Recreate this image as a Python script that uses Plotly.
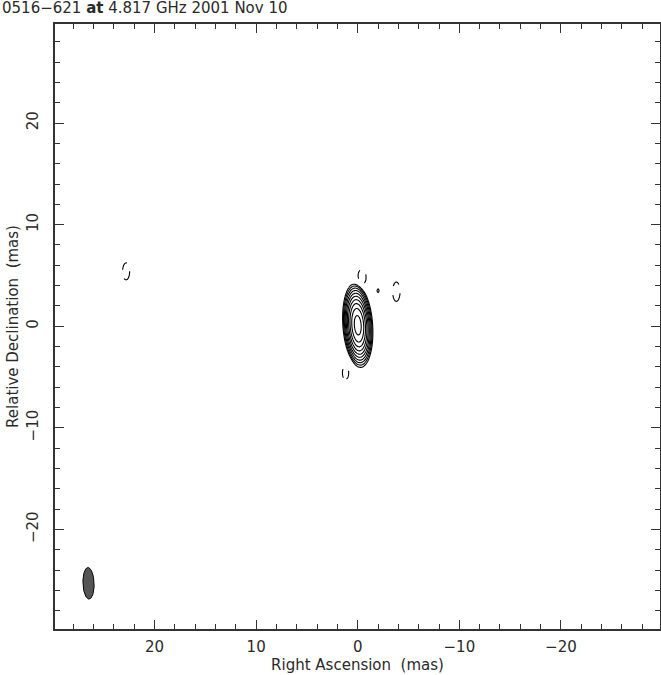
import numpy as np
import plotly.graph_objects as go

# Gaussian components of the map, flux in units of the lowest contour
comp_x = [0.0, 22.8, -0.4, -3.8, 1.2, -2.0]
comp_y = [0.1, 5.4, 4.8, 3.4, -4.6, 3.5]
comp_flux = [2 ** 9.5, -1.4, -1.4, -1.45, -1.25, -1.02]
comp_maj = [2.7, 2.4, 2.3, 2.6, 2.2, 2.0]
comp_min = [0.95, 1.0, 1.2, 1.0, 1.1, 1.0]
comp_pa = [4, 0, 0, 0, 0, 0]

# restoring beam (mas, deg) and where it is drawn
beam_maj, beam_min, beam_pa = 3.1, 1.1, 2
beam_x, beam_y = 26.5, -25.3

n_levels = 10
ticks = [20, 10, 0, -10, -20]

gx = np.arange(-6.0, 25.0, 0.08)
gy = np.arange(-8.0, 8.0, 0.08)
X, Y = np.meshgrid(gx, gy)
img = np.zeros_like(X)
for x0, y0, f, bmj, bmn, pa in zip(comp_x, comp_y, comp_flux, comp_maj, comp_min, comp_pa):
    t = np.radians(pa)
    dx, dy = X - x0, Y - y0
    u = dx * np.sin(t) + dy * np.cos(t)
    v = dx * np.cos(t) - dy * np.sin(t)
    img += f * np.exp(-4 * np.log(2) * ((u / bmj) ** 2 + (v / bmn) ** 2))

pos = np.where(img > 0, np.log2(np.clip(img, 1e-6, None)), -20).round(3)
neg = np.where(img < 0, np.log2(np.clip(-img, 1e-6, None)), -20).round(3)

black = [[0, 'black'], [1, 'black']]
fig = go.Figure()
fig.add_trace(go.Contour(x=gx, y=gy, z=pos, colorscale=black, showscale=False,
                         contours=dict(coloring='lines', start=0, end=n_levels - 1, size=1),
                         line=dict(width=1.1), hoverinfo='skip'))
fig.add_trace(go.Contour(x=gx, y=gy, z=neg, colorscale=black, showscale=False,
                         contours=dict(coloring='lines', start=0, end=0.5, size=1),
                         line=dict(width=1.1, dash='dash'), hoverinfo='skip'))

# beam ellipse
th = np.linspace(0, 2 * np.pi, 80)
t = np.radians(beam_pa)
a, b = beam_maj / 2, beam_min / 2
ex = beam_x + a * np.cos(th) * np.sin(t) + b * np.sin(th) * np.cos(t)
ey = beam_y + a * np.cos(th) * np.cos(t) - b * np.sin(th) * np.sin(t)
fig.add_trace(go.Scatter(x=ex, y=ey, mode='lines', fill='toself', fillcolor='#555555',
                         line=dict(color='black', width=1), hoverinfo='skip', showlegend=False))

font = dict(family='DejaVu Sans', size=15, color='#2a2a2a')
axis = dict(showline=True, linecolor='#333333', linewidth=1.5, mirror='allticks',
            ticks='inside', ticklen=9, tickcolor='#333333', tickwidth=1.2,
            tickvals=ticks, showgrid=False, zeroline=False, tickfont=font,
            automargin=False,
            minor=dict(dtick=2, ticks='inside', ticklen=5, tickcolor='#333333', tickwidth=1.2,
                       showgrid=False))

fig.update_layout(
    width=661, height=675,
    margin=dict(l=55, r=1, t=24, b=46),
    plot_bgcolor='white', paper_bgcolor='white',
    showlegend=False,
    title=dict(text='0516\u2212621 <b>at</b> 4.817 GHz 2001 Nov 10', font=font,
               x=2 / 661, xanchor='left', xref='container',
               y=1 - 8 / 675, yanchor='middle', yref='container', automargin=False),
    xaxis=dict(axis, range=[29.8, -29.75], ticklabelstandoff=3,
               title=dict(text='Right Ascension \u00a0(mas)', font=font, standoff=2)),
    yaxis=dict(axis, range=[-29.8, 29.75], tickangle=-90, ticklabelstandoff=9,
               title=dict(text='Relative Declination \u00a0(mas)', font=font, standoff=2)),
)

# drop the default 8 px page margin so the figure fills the window exactly
fig.write_html("out.html", config={'displayModeBar': False},
               post_script="document.body.style.margin='0';")
